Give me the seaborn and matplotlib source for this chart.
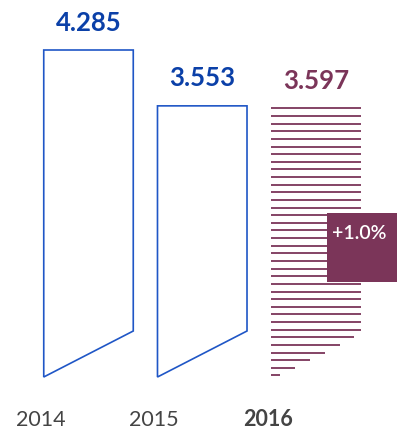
import numpy as np
import pandas as pd
import matplotlib
matplotlib.use("Agg")
import matplotlib.pyplot as plt
from matplotlib.patches import Polygon, Rectangle
import seaborn as sns

# Data
years = ["2014", "2015", "2016"]
values = [4.285, 3.553, 3.597]
value_labels = ["4.285", "3.553", "3.597"]
change_label = "+1.0%"

BLUE_TEXT = "#0b40a8"
BLUE_LINE = "#1f56c6"
MAROON = "#7b3559"
GREY = "#444444"

sns.set_theme(style="white")
plt.rcParams["font.family"] = ["Lato", "DejaVu Sans"]

fig = plt.figure(figsize=(4.04, 4.31), dpi=100)
ax = fig.add_axes([0, 0, 1, 1])

df = pd.DataFrame({"year": years, "value": values})
sns.barplot(data=df, x="year", y="value", width=0.787, ax=ax, color=MAROON)

# scale: pixels per value unit and per category step
px_per_unit = 327 / 4.285
px_per_cat = 113.75
ax.set_xlim(-88.5 / px_per_cat, (404 - 88.5) / px_per_cat)
ax.set_ylim(-53 / px_per_unit, (431 - 53) / px_per_unit)
ax.axis("off")

slant = 46 / px_per_unit      # rise of the slanted bottom edge at the right side
hatch_step = 0.1
hatch_start = 0.02

patches = list(ax.patches)
for i, p in enumerate(patches):
    x0, w, h = p.get_x(), p.get_width(), p.get_height()
    p.remove()
    cx = x0 + w / 2
    if i < 2:
        poly = Polygon([(x0, 0), (x0, h), (x0 + w, h), (x0 + w, slant)],
                       closed=True, fill=False, edgecolor=BLUE_LINE,
                       linewidth=1.2, joinstyle="miter")
        ax.add_patch(poly)
        top = h
        color = BLUE_TEXT
    else:
        ys = np.arange(hatch_start, h - 0.05, hatch_step)
        xe = x0 + w * np.minimum(1.0, (ys + 0.04) / slant)
        ax.hlines(ys, x0, xe, color=MAROON, linewidth=1.3)
        top = ys[-1]
        color = MAROON
        # growth box
        bx0 = x0 + 0.626 * w
        bx1 = (397 - 88.5) / px_per_cat
        by0 = (378 - 283) / px_per_unit
        by1 = (378 - 214) / px_per_unit
        ax.add_patch(Rectangle((bx0, by0), bx1 - bx0, by1 - by0,
                               facecolor=MAROON, edgecolor="none", zorder=3))
        ax.text(bx0 + 5 / px_per_cat, (378 - 233.5) / px_per_unit, change_label,
                color="white", fontsize=14, fontweight="semibold",
                ha="left", va="center", zorder=4)
    ax.text(cx, top + 28.5 / px_per_unit, value_labels[i], color=color,
            fontsize=18.5, fontweight="bold", ha="center", va="center")
    ax.text(x0 - 0.03, -42 / px_per_unit, years[i], color=GREY,
            fontsize=15.5, fontweight="bold" if i == 2 else "normal",
            ha="center", va="center")

fig.savefig("out.png", dpi=100)
